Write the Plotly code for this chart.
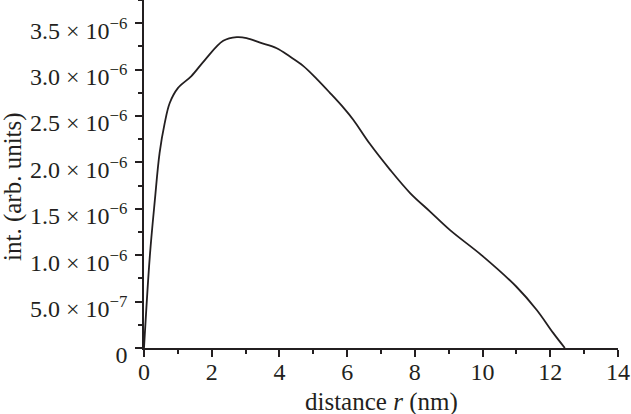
import plotly.graph_objects as go

# distance r (nm)
r_nm = [0, 0.17, 0.32, 0.46, 0.61, 0.76, 1.0, 1.40, 1.79,
        2.34, 2.74, 3.03, 3.43, 3.92, 4.31, 4.70, 5.10, 5.49, 5.89, 6.18, 6.67,
        7.27, 7.86, 8.45, 9.04, 10.02, 11.0, 11.6, 12.09, 12.43]
# intensity (arb. units)
intensity = [0, 0.98e-6, 1.59e-6, 2.10e-6, 2.42e-6, 2.64e-6, 2.80e-6, 2.93e-6, 3.10e-6,
             3.31e-6, 3.35e-6, 3.34e-6, 3.29e-6,
             3.23e-6, 3.14e-6, 3.04e-6, 2.90e-6, 2.75e-6, 2.59e-6, 2.46e-6, 2.20e-6,
             1.92e-6, 1.67e-6, 1.47e-6, 1.27e-6, 0.985e-6, 0.66e-6, 0.41e-6,
             0.16e-6, 0]

y_tickvals = [0, 0.5e-6, 1.0e-6, 1.5e-6, 2.0e-6, 2.5e-6, 3.0e-6, 3.5e-6]
y_ticktext = ["0", "5.0 × 10<sup>−7</sup>", "1.0 × 10<sup>−6</sup>", "1.5 × 10<sup>−6</sup>",
              "2.0 × 10<sup>−6</sup>", "2.5 × 10<sup>−6</sup>", "3.0 × 10<sup>−6</sup>",
              "3.5 × 10<sup>−6</sup>"]
y_minor = [0.25e-6, 0.75e-6, 1.25e-6, 1.75e-6, 2.25e-6, 2.75e-6, 3.25e-6, 3.75e-6]
x_tickvals = [0, 2, 4, 6, 8, 10, 12, 14]
x_ticktext = [str(v) for v in x_tickvals]
x_title = "distance <i>r</i> (nm)"
y_title = "int. (arb. units)"

ink = "#231f20"
family = "Liberation Serif, Times New Roman, serif"
tick_font = dict(family=family, size=24, color=ink)
title_font = dict(family=family, size=25, color=ink)

W, H = 631, 414
L, T, B = 144, 0, 66
PW = 474
PH = H - T - B

fig = go.Figure()
fig.add_trace(go.Scatter(x=r_nm, y=intensity, mode="lines",
                         line=dict(color=ink, width=1.8, shape="spline", smoothing=1.0),
                         showlegend=False, hoverinfo="skip"))

axis_common = dict(showgrid=False, zeroline=False, showline=True, linecolor=ink, linewidth=1.5,
                   ticks="outside", ticklen=7, tickwidth=1.5, tickcolor=ink,
                   tickfont=tick_font, automargin=False, ticklabeloverflow="allow")

fig.update_layout(
    width=W, height=H,
    margin=dict(l=L, r=W - L - PW, t=T, b=B),
    paper_bgcolor="white", plot_bgcolor="white",
    font=tick_font,
    xaxis=dict(range=[0, 14], tickvals=x_tickvals, ticktext=x_ticktext,
               ticklabelstandoff=-6,
               minor=dict(dtick=1, ticks="outside", ticklen=4, tickwidth=1.5, tickcolor=ink, showgrid=False),
               **axis_common),
    yaxis=dict(range=[0, PH / 92.8 * 1e-6], tickvals=y_tickvals, ticktext=y_ticktext,
               ticklabelstandoff=3, ticklabelshift=7,
               minor=dict(tickvals=y_minor, ticks="outside", ticklen=4, tickwidth=1.5, tickcolor=ink, showgrid=False),
               **axis_common),
    annotations=[
        dict(text=x_title, xref="paper", yref="paper", x=0.5, y=-(402 - PH) / PH,
             xanchor="center", yanchor="middle", showarrow=False, font=title_font),
        dict(text=y_title, xref="paper", yref="paper", x=(13 - L) / PW, y=(PH - 187) / PH,
             xanchor="center", yanchor="middle", textangle=-90, showarrow=False, font=title_font),
    ],
)

fig.write_html("out.html", config={"displayModeBar": False},
               post_script="document.body.style.margin='0';")
